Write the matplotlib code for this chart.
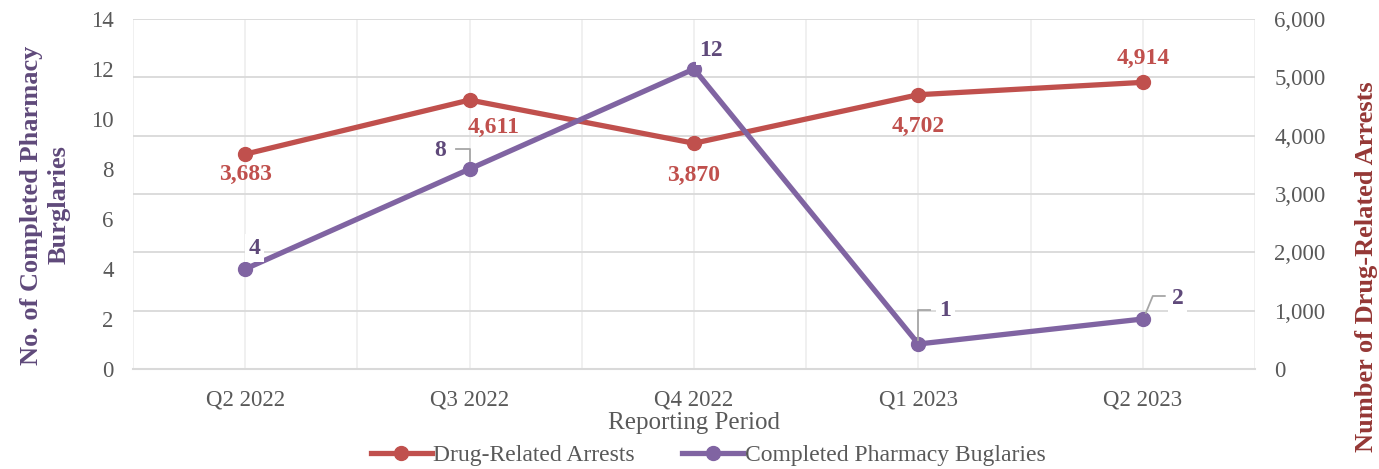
import matplotlib
matplotlib.use("Agg")
import matplotlib.pyplot as plt
from matplotlib.ticker import FuncFormatter
from matplotlib.lines import Line2D
import numpy as np

# ---- data ----
periods = ["Q2 2022", "Q3 2022", "Q4 2022", "Q1 2023", "Q2 2023"]
arrests = [3683, 4611, 3870, 4702, 4914]
burglaries = [4, 8, 12, 1, 2]
left_ticks = [0, 2, 4, 6, 8, 10, 12, 14]
right_ticks = [0, 1000, 2000, 3000, 4000, 5000, 6000]

RED = "#C0504D"
PURPLE = "#8064A2"
PURPLE_TXT = "#5F497A"
RED_TITLE = "#953735"
GRAY_TXT = "#595959"
GRID_H = "#D9D9D9"
GRID_V = "#EDEDED"

plt.rcParams['font.family'] = ['Liberation Serif', 'DejaVu Serif']

W, H = 1379, 469
fig = plt.figure(figsize=(W / 100, H / 100), dpi=100)
left, right, top, bottom = 133, 1255, 19, 369
ax = fig.add_axes([left / W, 1 - bottom / H, (right - left) / W, (bottom - top) / H])
ax2 = ax.twinx()

x = np.arange(len(periods))

# right axis (arrests) drawn below, holds horizontal gridlines
ax2.set_ylim(0, 6000)
ax2.set_yticks(right_ticks)
ax2.yaxis.set_major_formatter(FuncFormatter(lambda v, p: f"{int(v):,}"))
ax2.grid(axis='y', color=GRID_H, linewidth=1.3, zorder=0)
ax2.set_axisbelow(True)
ax2.plot(x, arrests, color=RED, linewidth=3.8, marker='o', markersize=10, zorder=3,
         solid_capstyle='round')

# left axis (burglaries) on top
ax.set_zorder(ax2.get_zorder() + 1)
ax.patch.set_visible(False)
ax.set_ylim(0, 14)
ax.set_yticks(left_ticks)
ax.set_xlim(-0.5, len(periods) - 0.5)
ax.set_xticks(x)
ax.set_xticklabels(periods)
ax.plot(x, burglaries, color=PURPLE, linewidth=3.8, marker='o', markersize=10, zorder=3,
        solid_capstyle='round')

# vertical gridlines every half category
for xv in np.arange(-0.5, len(periods), 0.5):
    ax2.axvline(xv, color=GRID_V, linewidth=1.2, zorder=0)

for a in (ax, ax2):
    for s in a.spines.values():
        s.set_visible(False)
    a.tick_params(length=0, labelsize=16.5, labelcolor=GRAY_TXT)
ax2.spines['bottom'].set_visible(True)
ax2.spines['bottom'].set_color(GRID_H)
ax2.spines['bottom'].set_linewidth(1.5)
ax.tick_params(axis='y', pad=14)
ax2.tick_params(axis='y', pad=14)
ax.tick_params(axis='x', pad=15)

# axis titles
ax.set_xlabel("Reporting Period", fontsize=18, color=GRAY_TXT, labelpad=1)
fig.text(45 / W, 1 - 205 / H, "No. of Completed Pharmacy\nBurglaries", rotation=90,
         ha='center', va='center', fontsize=19, fontweight='bold', color=PURPLE_TXT,
         linespacing=1.25, multialignment='center')
fig.text(1366 / W, 1 - 267 / H, "Number of Drug-Related Arrests", rotation=90,
         ha='center', va='center', fontsize=19, fontweight='bold', color=RED_TITLE)

# data labels (pixel offsets: dx right, dy up)
red_off = [(0, -20), (24, -27), (0, -32), (0, -32), (0, 24)]
for xi, v, (dx, dy) in zip(x, arrests, red_off):
    ax2.annotate(f"{v:,}", (xi, v), xytext=(dx * 0.72, dy * 0.72), textcoords='offset points',
                 ha='center', va='center', fontsize=17, fontweight='bold', color=RED, zorder=5)

pur_off = [(9, 21), (-29, 18), (17, 18), (27, 33), (35, 21)]
for xi, v, (dx, dy) in zip(x, burglaries, pur_off):
    ax.annotate(f"{v}", (xi, v), xytext=(dx * 0.72, dy * 0.72), textcoords='offset points',
                ha='center', va='center', fontsize=17, fontweight='bold', color=PURPLE_TXT,
                zorder=6, bbox=dict(boxstyle='square,pad=0.15', fc='white', ec='none'))

# leader lines for some purple labels (pixel offsets from the point)
leaders = {1: [(0, 8), (0, 20), (-14, 20)],
           3: [(0, 4), (0, 34), (12, 34)],
           4: [(3, 6), (10, 23), (22, 23)]}
to_data = ax.transData
inv = ax.transData.inverted()
for i, verts in leaders.items():
    px, py = to_data.transform((x[i], burglaries[i]))
    pts = [inv.transform((px + dx, py + dy)) for dx, dy in verts]
    ax.plot([p[0] for p in pts], [p[1] for p in pts], color="#A6A6A6", linewidth=1.3,
            zorder=4, clip_on=False)

# legend
handles = [Line2D([0], [0], color=RED, linewidth=3.8, marker='o', markersize=10),
           Line2D([0], [0], color=PURPLE, linewidth=3.8, marker='o', markersize=10)]
fig.legend(handles, ["Drug-Related Arrests", "Completed Pharmacy Buglaries"],
           loc='center', bbox_to_anchor=(708 / W, 1 - 455 / H), ncol=2, frameon=False,
           fontsize=17, handlelength=2.6, handletextpad=0.05, columnspacing=2.0,
           labelcolor=GRAY_TXT)

fig.savefig("out.png", dpi=100)
